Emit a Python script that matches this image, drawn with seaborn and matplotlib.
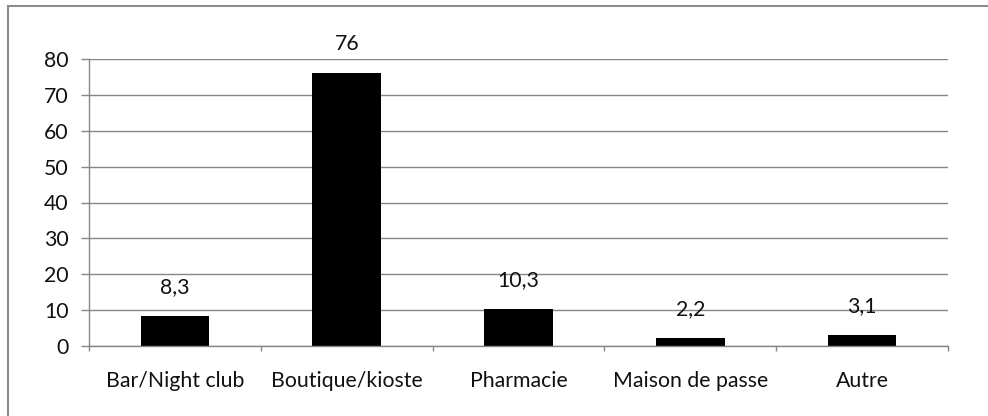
import matplotlib
matplotlib.use("Agg")
import matplotlib.pyplot as plt
import seaborn as sns
import pandas as pd
from matplotlib.patches import Rectangle

categories = ["Bar/Night club", "Boutique/kioste", "Pharmacie", "Maison de passe", "Autre"]
values = [8.3, 76, 10.3, 2.2, 3.1]
value_labels = ["8,3", "76", "10,3", "2,2", "3,1"]
y_ticks = [0, 10, 20, 30, 40, 50, 60, 70, 80]

sns.set_theme(style="white")
plt.rcParams["font.family"] = ["Lato", "DejaVu Sans"]

FS = 15.3
W, H = 988, 416
fig = plt.figure(figsize=(W / 100, H / 100), dpi=100)
ax = fig.add_axes([89 / W, 1 - 346 / H, (948 - 89) / W, (346 - 59) / H])

df = pd.DataFrame({"cat": categories, "val": values})
sns.barplot(data=df, x="cat", y="val", color="black", width=0.40, ax=ax,
            saturation=1, edgecolor="black", linewidth=0)

grid_c = "#868686"
txt_c = "#111111"
ax.set_ylim(0, 80)
ax.set_xlim(-0.5, len(categories) - 0.5)
ax.set_yticks(y_ticks)
ax.set_yticklabels([str(t) for t in y_ticks], fontsize=FS, color=txt_c)
ax.yaxis.grid(True, color=grid_c, linewidth=1)
ax.set_axisbelow(True)
ax.set_xlabel("")
ax.set_ylabel("")

ax.set_xticks([i + 0.5 for i in range(-1, len(categories))], minor=True)
ax.set_xticks(range(len(categories)))
ax.set_xticklabels(categories, fontsize=FS, color=txt_c)
ax.tick_params(axis="x", which="major", length=0, pad=18)
ax.tick_params(axis="x", which="minor", length=3.6, width=1, color=grid_c, bottom=True)
ax.tick_params(axis="y", length=5.8, width=1, color=grid_c, left=True, pad=9)

for s in ["top", "right"]:
    ax.spines[s].set_visible(False)
for s in ["left", "bottom"]:
    ax.spines[s].set_color(grid_c)
    ax.spines[s].set_linewidth(1)

for i, (v, lab) in enumerate(zip(values, value_labels)):
    ax.annotate(lab, (i, v), xytext=(0, 21), textcoords="offset points",
                ha="center", va="center", fontsize=FS, color=txt_c)

fig.patches.append(Rectangle((8 / W, -0.1), 1.2, 1 - 6 / H + 0.1,
                             transform=fig.transFigure, fill=False,
                             edgecolor="#8c8c8c", linewidth=1.5))

fig.savefig("out.png", dpi=100)
